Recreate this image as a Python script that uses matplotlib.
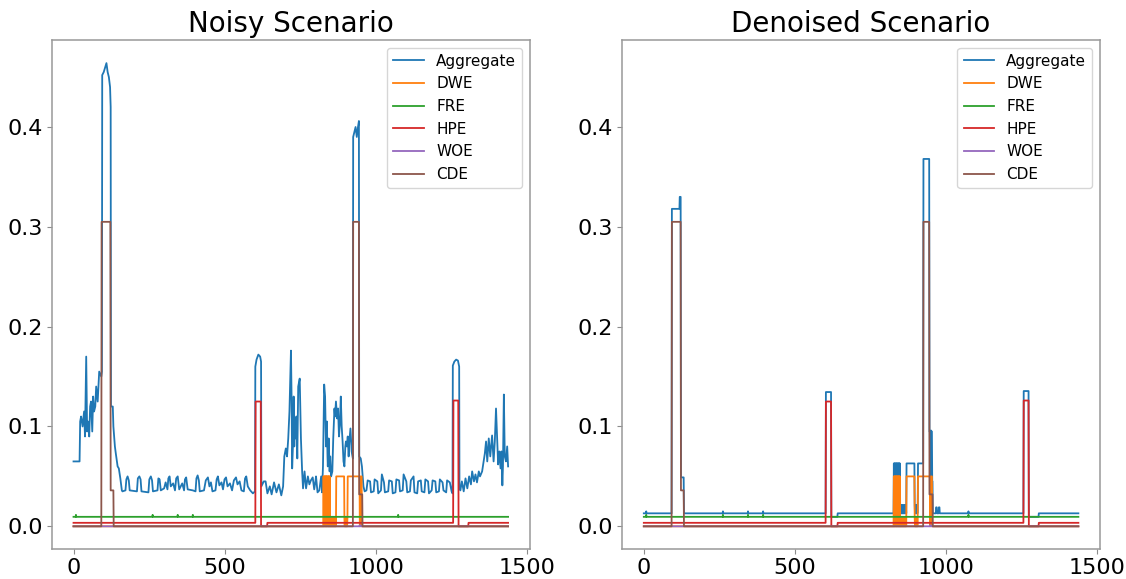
import numpy as np
import matplotlib.pyplot as plt
from matplotlib.ticker import MultipleLocator

MINUTES = 1440
labels = ["Aggregate", "DWE", "FRE", "HPE", "WOE", "CDE"]
titles = ["Noisy Scenario", "Denoised Scenario"]

# appliance signals as (start, end, value) segments
cde_segments = [(93, 123, 0.305), (123, 133, 0.036), (926, 946, 0.305), (946, 957, 0.032)]
hpe_segments = [(0, 603, 0.0035), (603, 621, 0.125), (642, 1258, 0.0035),
                (1258, 1275, 0.126), (1308, 1440, 0.0035)]
fre_segments = [(0, 1440, 0.0095), (8, 9, 0.0115), (262, 263, 0.0115), (345, 346, 0.0115),
                (395, 396, 0.0115), (1075, 1076, 0.0115)]
woe_segments = [(948, 952, 0.001)]
dwe_segments = [(870, 897, 0.05), (908, 948, 0.05), (951, 955, 0.05)]
# fast on/off bursts of the dishwasher, one value per minute
dwe_burst_a_start = 828
dwe_burst_a = [0.05, 0, 0.05, 0, 0.05, 0.05, 0, 0.05, 0, 0.05, 0, 0.05,
               0, 0.05, 0.05, 0, 0.05, 0, 0.05, 0, 0.05, 0]
dwe_burst_b_start = 850
dwe_burst_b = [0.008, 0, 0.008, 0, 0.008, 0, 0.008, 0, 0.008, 0,
               0.008, 0, 0.008, 0, 0.008, 0, 0.008, 0, 0.008, 0]
dwe_burst_c_start = 897
dwe_burst_c = [0.008, 0, 0.008, 0, 0.008, 0, 0.008, 0, 0.008, 0, 0.008]

# small leftovers of the denoised aggregate on top of the appliance sum
denoised_extra = [(119, 123, 0.012), (968, 971, 0.006), (977, 980, 0.006)]

# noisy aggregate, read point by point as (minute, kW)
noisy_morning = [(0, 0.065), (20, 0.065), (22, 0.105), (25, 0.11), (30, 0.1), (35, 0.115),
                 (38, 0.09), (42, 0.17), (45, 0.095), (48, 0.105), (52, 0.09), (55, 0.12),
                 (58, 0.125), (62, 0.095), (65, 0.13), (68, 0.115), (72, 0.12), (75, 0.14),
                 (80, 0.125), (85, 0.155), (92, 0.15), (94, 0.155), (95, 0.452), (100, 0.455),
                 (105, 0.46), (109, 0.464), (113, 0.455), (117, 0.45), (121, 0.44), (123, 0.42),
                 (124, 0.12), (130, 0.12), (132, 0.1), (137, 0.08), (140, 0.073), (146, 0.06),
                 (150, 0.058), (155, 0.048), (160, 0.036)]
noisy_day = [(162, 0.035), (172, 0.036), (175, 0.047), (179, 0.05), (183, 0.046), (186, 0.036),
             (210, 0.035), (213, 0.048), (218, 0.05), (222, 0.047), (225, 0.035), (248, 0.034),
             (251, 0.047), (256, 0.05), (260, 0.046), (263, 0.035), (278, 0.036), (281, 0.048),
             (285, 0.047), (289, 0.036), (300, 0.038), (305, 0.044), (311, 0.037), (314, 0.048),
             (318, 0.05), (322, 0.04), (330, 0.043), (336, 0.036), (340, 0.048), (345, 0.05),
             (350, 0.037), (360, 0.043), (366, 0.036), (369, 0.047), (373, 0.049), (378, 0.037),
             (395, 0.036), (404, 0.035), (407, 0.048), (411, 0.051), (415, 0.046), (418, 0.035),
             (432, 0.036), (438, 0.046), (445, 0.049), (450, 0.04), (455, 0.044), (460, 0.035),
             (470, 0.036), (474, 0.047), (478, 0.05), (483, 0.041), (490, 0.044), (495, 0.037),
             (500, 0.047), (505, 0.049), (510, 0.04), (518, 0.043), (525, 0.036), (531, 0.046),
             (538, 0.049), (543, 0.042), (550, 0.045), (556, 0.036), (564, 0.035), (568, 0.048),
             (572, 0.05), (577, 0.04), (585, 0.036), (594, 0.033), (601, 0.035)]
noisy_afternoon = [(602, 0.16), (606, 0.167), (612, 0.172), (618, 0.17), (621, 0.165),
                   (622, 0.04), (630, 0.045), (636, 0.045), (642, 0.033), (650, 0.04),
                   (656, 0.032), (664, 0.044), (672, 0.034), (680, 0.042), (688, 0.031),
                   (694, 0.04), (698, 0.07), (703, 0.078), (707, 0.07), (711, 0.088),
                   (715, 0.115), (720, 0.176), (722, 0.13), (724, 0.058), (727, 0.085),
                   (729, 0.13), (731, 0.08), (733, 0.105), (736, 0.088), (738, 0.11),
                   (741, 0.068), (744, 0.14), (749, 0.148), (753, 0.088), (757, 0.055),
                   (760, 0.038), (765, 0.055), (770, 0.038), (776, 0.05), (781, 0.042),
                   (786, 0.046), (792, 0.049), (797, 0.037), (801, 0.045), (803, 0.05),
                   (808, 0.034), (814, 0.036), (820, 0.05), (823, 0.034), (826, 0.06),
                   (830, 0.142), (833, 0.13), (836, 0.08), (839, 0.105), (841, 0.07),
                   (842, 0.06), (845, 0.088), (848, 0.055), (850, 0.07), (853, 0.05),
                   (857, 0.055), (860, 0.088), (864, 0.118), (866, 0.11), (869, 0.125),
                   (873, 0.108), (876, 0.118), (879, 0.09), (882, 0.102), (885, 0.13),
                   (888, 0.1), (891, 0.085), (894, 0.065), (897, 0.06), (900, 0.08),
                   (902, 0.085), (905, 0.08), (908, 0.09), (911, 0.07), (913, 0.084),
                   (917, 0.098), (921, 0.075), (925, 0.068), (926, 0.39), (930, 0.395),
                   (934, 0.4), (938, 0.39), (942, 0.4), (945, 0.406), (946, 0.07),
                   (951, 0.068), (955, 0.06), (960, 0.04), (964, 0.035)]
noisy_evening = [(970, 0.036), (974, 0.046), (982, 0.045), (985, 0.034), (994, 0.035),
                 (997, 0.047), (1006, 0.045), (1009, 0.033), (1018, 0.036), (1021, 0.052),
                 (1028, 0.044), (1031, 0.034), (1042, 0.035), (1045, 0.046), (1054, 0.045),
                 (1057, 0.033), (1066, 0.034), (1069, 0.047), (1078, 0.046), (1081, 0.035),
                 (1090, 0.036), (1093, 0.052), (1102, 0.045), (1105, 0.034), (1114, 0.035),
                 (1117, 0.046), (1126, 0.05), (1129, 0.034), (1138, 0.033), (1141, 0.045),
                 (1150, 0.046), (1153, 0.035), (1162, 0.034), (1165, 0.047), (1174, 0.045),
                 (1177, 0.033), (1186, 0.036), (1189, 0.046), (1198, 0.045), (1201, 0.034),
                 (1210, 0.035), (1213, 0.047), (1222, 0.044), (1225, 0.036), (1234, 0.034),
                 (1237, 0.046), (1246, 0.044), (1252, 0.035), (1255, 0.033),
                 (1256, 0.161), (1261, 0.165), (1267, 0.167), (1273, 0.166), (1277, 0.16),
                 (1278, 0.038), (1281, 0.036), (1286, 0.045), (1292, 0.035), (1298, 0.048),
                 (1304, 0.038), (1310, 0.05), (1316, 0.042), (1320, 0.055), (1326, 0.045),
                 (1331, 0.052), (1336, 0.044), (1342, 0.055), (1346, 0.05), (1353, 0.055),
                 (1362, 0.073), (1366, 0.085), (1370, 0.065), (1375, 0.088), (1380, 0.07),
                 (1386, 0.091), (1391, 0.065), (1395, 0.085), (1399, 0.118), (1403, 0.085),
                 (1406, 0.062), (1410, 0.075), (1414, 0.058), (1417, 0.075), (1420, 0.041),
                 (1422, 0.06), (1425, 0.132), (1428, 0.07), (1432, 0.065), (1436, 0.08),
                 (1439, 0.06)]


def from_segments(segments):
    out = np.zeros(MINUTES)
    for start, end, value in segments:
        out[start:end] = value
    return out


t = np.arange(MINUTES)
dwe = from_segments(dwe_segments)
dwe[dwe_burst_a_start:dwe_burst_a_start + len(dwe_burst_a)] = dwe_burst_a
dwe[dwe_burst_b_start:dwe_burst_b_start + len(dwe_burst_b)] = dwe_burst_b
dwe[dwe_burst_c_start:dwe_burst_c_start + len(dwe_burst_c)] = dwe_burst_c
fre = from_segments(fre_segments)
hpe = from_segments(hpe_segments)
woe = from_segments(woe_segments)
cde = from_segments(cde_segments)
denoised = dwe + fre + hpe + woe + cde + from_segments(denoised_extra)

noisy_x, noisy_y = zip(*(noisy_morning + noisy_day + noisy_afternoon + noisy_evening))

fig, axes = plt.subplots(1, 2, figsize=(11.26, 5.79), dpi=100, sharey=True)
fig.subplots_adjust(left=0.046, right=0.977, bottom=0.051, top=0.931, wspace=0.193)

for ax, title, agg_x, agg_y in zip(axes, titles, [noisy_x, t], [noisy_y, denoised]):
    ax.plot(agg_x, agg_y, lw=1.3, label=labels[0])
    for series, name in zip([dwe, fre, hpe, woe, cde], labels[1:]):
        ax.plot(t, series, lw=1.3, label=name)
    ax.set_title(title, fontsize=20)
    ax.xaxis.set_major_locator(MultipleLocator(500))
    ax.tick_params(labelsize=16, labelleft=True, color="0.55", pad=3)
    for sp in ax.spines.values():
        sp.set_color("0.6")
        sp.set_linewidth(1.1)
    ax.legend(loc="upper right", fontsize=11)

fig.savefig("out.png")
